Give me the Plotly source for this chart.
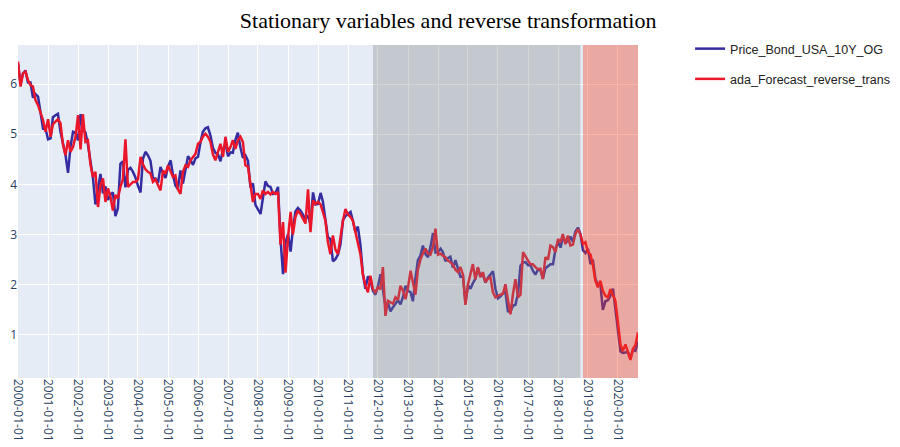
import pandas as pd
import plotly.graph_objects as go

start_month = "2000-01-01"
n_months = 249

price_bond_usa_10y_og = [
    6.41, 6.00, 6.21, 6.27, 6.03, 6.03, 5.73, 5.80, 5.75, 5.47, 5.11, 5.11,
    4.90, 4.92, 5.34, 5.38, 5.41, 5.05, 4.83, 4.59, 4.23, 4.75, 5.05, 5.03,
    4.88, 5.40, 5.09, 5.04, 4.80, 4.46, 4.14, 3.60, 3.89, 4.21, 3.82, 3.96,
    3.69, 3.80, 3.84, 3.37, 3.52, 4.41, 4.46, 3.94, 4.29, 4.33, 4.25, 4.14,
    3.97, 3.84, 4.51, 4.65, 4.58, 4.47, 4.12, 4.12, 4.03, 4.35, 4.22, 4.13,
    4.36, 4.48, 4.20, 3.98, 3.91, 4.28, 4.02, 4.33, 4.56, 4.49, 4.39, 4.52,
    4.55, 4.85, 5.05, 5.12, 5.14, 4.98, 4.73, 4.63, 4.60, 4.46, 4.70, 4.82,
    4.56, 4.64, 4.63, 4.89, 5.03, 4.74, 4.53, 4.58, 4.47, 3.94, 4.02, 3.59,
    3.51, 3.41, 3.73, 4.06, 3.97, 3.95, 3.81, 3.83, 3.95, 2.92, 2.21, 2.84,
    3.01, 2.66, 3.11, 3.46, 3.53, 3.48, 3.40, 3.31, 3.38, 3.20, 3.84, 3.60,
    3.61, 3.83, 3.66, 3.29, 2.95, 2.91, 2.47, 2.51, 2.60, 2.80, 3.29, 3.37,
    3.42, 3.45, 3.28, 3.05, 3.16, 2.80, 2.22, 1.92, 2.17, 2.07, 1.88, 1.80,
    1.97, 2.21, 1.91, 1.56, 1.65, 1.47, 1.55, 1.63, 1.69, 1.61, 1.76, 1.98,
    1.88, 1.85, 1.67, 2.13, 2.49, 2.58, 2.78, 2.61, 2.55, 2.75, 3.03, 2.64,
    2.65, 2.72, 2.65, 2.47, 2.53, 2.56, 2.34, 2.49, 2.34, 2.16, 2.17, 1.64,
    1.99, 1.92, 2.03, 2.12, 2.33, 2.18, 2.21, 2.04, 2.14, 2.21, 2.27, 1.92,
    1.73, 1.77, 1.83, 1.85, 1.47, 1.46, 1.58, 1.60, 1.83, 2.38, 2.44, 2.45,
    2.39, 2.39, 2.28, 2.20, 2.30, 2.29, 2.12, 2.33, 2.38, 2.41, 2.41, 2.71,
    2.86, 2.74, 2.95, 2.86, 2.86, 2.96, 2.86, 3.06, 3.14, 3.01, 2.69, 2.63,
    2.72, 2.41, 2.50, 2.12, 2.00, 2.01, 1.50, 1.67, 1.69, 1.78, 1.92, 1.51,
    1.15, 0.67, 0.64, 0.65, 0.66, 0.53, 0.70, 0.68, 0.87,
]

ada_forecast_reverse_trans = [
    6.45, 5.95, 6.21, 6.25, 6.08, 5.98, 5.95, 5.68, 5.58, 5.45, 5.28, 5.05,
    5.30, 4.95, 5.20, 5.25, 5.30, 5.22, 4.80, 4.58, 4.88, 4.65, 4.75, 4.95,
    5.38, 4.70, 5.40, 4.85, 4.88, 4.40, 4.15, 4.25, 3.55, 3.98, 4.12, 3.65,
    3.92, 3.75, 3.48, 3.79, 3.72, 3.95, 4.10, 4.90, 3.95, 4.00, 4.05, 4.05,
    4.10, 4.55, 4.40, 4.30, 4.25, 4.22, 4.05, 4.10, 3.98, 3.88, 4.28, 4.21,
    4.38, 4.25, 4.15, 4.18, 3.90, 3.81, 4.25, 4.38, 4.35, 4.48, 4.55, 4.61,
    4.81, 4.85, 4.95, 5.01, 4.95, 4.85, 4.60, 4.48, 4.65, 4.81, 4.55, 4.95,
    4.65, 4.75, 4.88, 4.71, 4.88, 4.95, 4.85, 4.38, 4.35, 3.95, 3.65, 3.81,
    3.81, 3.71, 3.88, 3.81, 3.85, 3.80, 3.85, 3.81, 3.85, 2.80, 3.25, 2.24,
    2.95, 3.45, 3.00, 3.35, 3.48, 3.41, 3.30, 3.22, 3.90, 3.05, 3.68, 3.61,
    3.65, 3.60, 3.45, 3.28, 2.85, 2.61, 2.98, 2.70, 2.61, 2.95, 3.28, 3.51,
    3.40, 3.35, 3.28, 3.05, 2.80, 2.61, 2.21, 1.98, 1.85, 2.18, 1.91, 1.85,
    1.95, 1.91, 2.35, 1.38, 1.68, 1.65, 1.62, 1.75, 1.70, 1.98, 1.88, 1.71,
    1.95, 2.28, 2.08, 1.80, 2.30, 2.50, 2.62, 2.72, 2.62, 2.60, 2.75, 3.12,
    2.60, 2.62, 2.58, 2.55, 2.48, 2.45, 2.40, 2.30, 2.25, 2.35, 2.20, 1.60,
    2.01, 2.20, 2.41, 2.11, 2.35, 2.15, 2.25, 2.05, 2.12, 2.15, 1.85, 1.75,
    1.78, 1.80, 1.82, 2.01, 1.70, 1.41, 1.81, 2.11, 1.75, 1.80, 2.65, 2.55,
    2.48, 2.41, 2.41, 2.35, 2.31, 2.32, 2.11, 2.55, 2.50, 2.78, 2.75, 2.65,
    2.91, 2.85, 3.01, 2.81, 2.98, 2.78, 2.80, 3.01, 3.11, 3.00, 2.81, 2.85,
    2.65, 2.60, 2.40, 2.08, 1.95, 2.08, 1.88, 1.78, 1.75, 1.91, 1.80, 1.68,
    1.25, 0.80, 0.68, 0.81, 0.66, 0.50, 0.72, 0.80, 1.05,
]

validation_period = ["2011-11-01", "2018-10-01"]
test_period = ["2018-11-01", "2020-09-01"]

dates = pd.date_range(start_month, periods=n_months, freq="MS")

fig = go.Figure()
fig.add_trace(go.Scatter(
    x=dates, y=price_bond_usa_10y_og, mode="lines", name="Price_Bond_USA_10Y_OG",
    line=dict(color="rgb(52,44,160)", width=2.5), legendgroup="a",
))
fig.add_trace(go.Scatter(
    x=dates, y=ada_forecast_reverse_trans, mode="lines", name="ada_Forecast_reverse_trans",
    line=dict(color="rgb(236,22,42)", width=2.5), legendgroup="b",
))

fig.add_vrect(x0=validation_period[0], x1=validation_period[1],
              fillcolor="gray", opacity=0.32, layer="above", line_width=0)
fig.add_vrect(x0=test_period[0], x1=test_period[1],
              fillcolor="rgb(240,60,25)", opacity=0.38, layer="above", line_width=0)

fig.update_layout(
    width=900, height=447,
    template="plotly",
    margin=dict(l=10, r=270, t=37, b=77),
    title=dict(text="Stationary variables and reverse transformation",
               x=0.489, xref="container", xanchor="center",
               y=0.973, yref="container", yanchor="middle",
               font=dict(family="Liberation Serif", size=22, color="black")),
    legend=dict(x=1.084, xanchor="left", y=1.033, yanchor="top",
                font=dict(family="Liberation Sans", size=12.5, color="#222"),
                tracegroupgap=11),
    xaxis=dict(tickformat="%Y-%m-%d", dtick="M12", tick0="2000-01-01",
               tickangle=90, automargin=False, tickfont=dict(size=12)),
    yaxis=dict(range=[0.14, 6.78], automargin=False, dtick=1,
               tickfont=dict(size=12)),
)

fig.write_html("out.html")
